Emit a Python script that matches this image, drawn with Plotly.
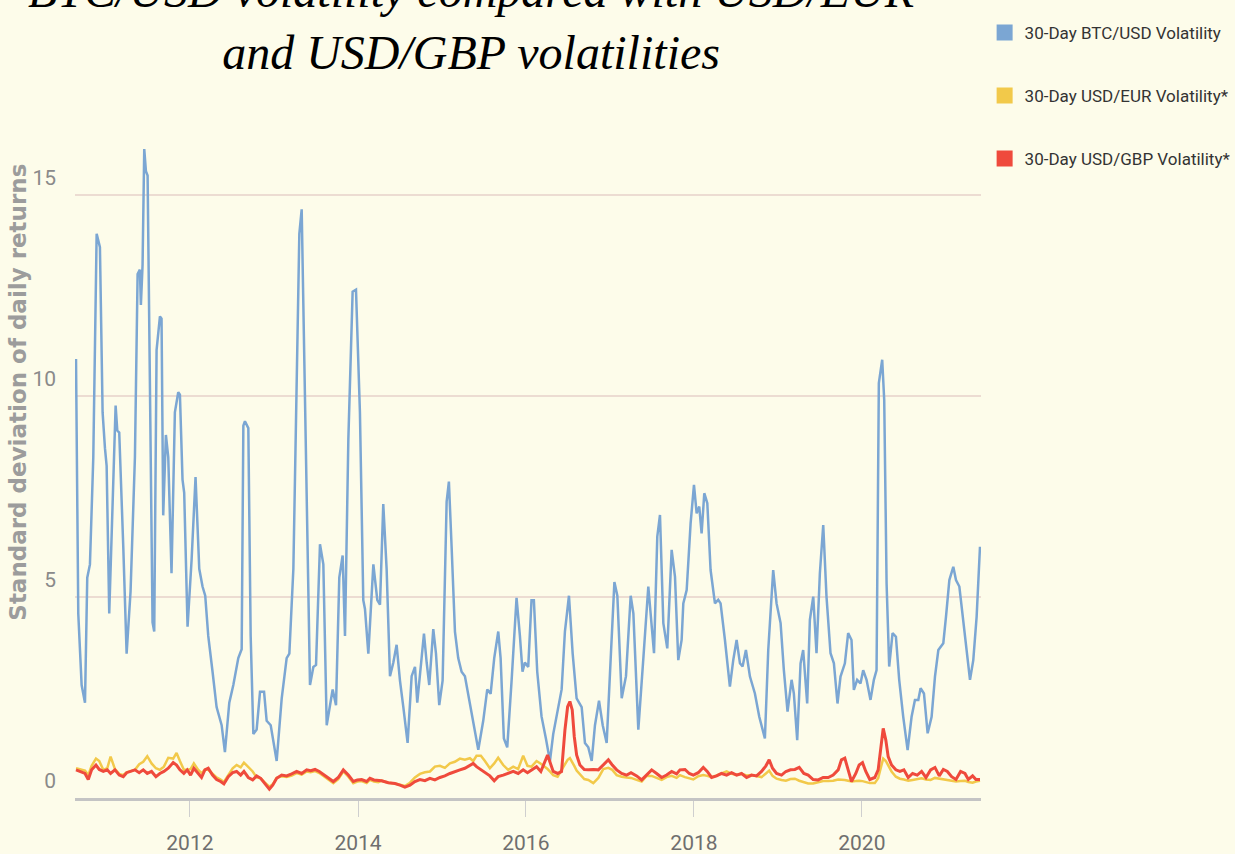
import pandas as pd
import plotly.graph_objects as go

# ---------------- data (decimal years, standard deviation of daily returns) ----------------
btc_years = [
    2010.643, 2010.670, 2010.710, 2010.750, 2010.777, 2010.809, 2010.849, 2010.889, 2010.928, 2010.960,
    2010.988, 2011.008, 2011.039, 2011.079, 2011.115, 2011.135, 2011.158, 2011.206, 2011.246, 2011.293,
    2011.345, 2011.377, 2011.404, 2011.416, 2011.436, 2011.456, 2011.476, 2011.496, 2011.523, 2011.555,
    2011.575, 2011.603, 2011.643, 2011.662, 2011.682, 2011.714, 2011.742, 2011.781, 2011.821, 2011.861,
    2011.881, 2011.912, 2011.932, 2011.972, 2012.020, 2012.067, 2012.111, 2012.150, 2012.182, 2012.218,
    2012.269, 2012.317, 2012.377, 2012.416, 2012.468, 2012.516, 2012.575, 2012.615, 2012.635, 2012.654,
    2012.694, 2012.722, 2012.754, 2012.793, 2012.833, 2012.881, 2012.912, 2012.960, 2013.031, 2013.091,
    2013.150, 2013.182, 2013.230, 2013.270, 2013.301, 2013.329, 2013.361, 2013.397, 2013.428, 2013.468,
    2013.500, 2013.547, 2013.587, 2013.627, 2013.666, 2013.698, 2013.738, 2013.777, 2013.817, 2013.845,
    2013.885, 2013.936, 2013.976, 2014.023, 2014.063, 2014.083, 2014.123, 2014.183, 2014.230, 2014.262,
    2014.301,
    2014.341, 2014.381, 2014.421, 2014.460, 2014.500, 2014.540, 2014.591, 2014.639, 2014.679, 2014.706,
    2014.738, 2014.786, 2014.818, 2014.849, 2014.897, 2014.929, 2014.968, 2015.008, 2015.056, 2015.083,
    2015.115, 2015.155, 2015.194, 2015.234, 2015.274, 2015.314, 2015.365, 2015.433, 2015.492, 2015.540,
    2015.580, 2015.623, 2015.671, 2015.699, 2015.738, 2015.778, 2015.830, 2015.889, 2015.929, 2015.960,
    2015.988, 2016.028, 2016.067, 2016.095, 2016.135, 2016.186, 2016.238, 2016.286, 2016.325, 2016.365,
    2016.425, 2016.464, 2016.512, 2016.556, 2016.603, 2016.663, 2016.702, 2016.742, 2016.782, 2016.821,
    2016.869, 2016.913, 2016.960, 2017.008, 2017.052, 2017.087, 2017.139, 2017.190, 2017.246, 2017.278,
    2017.337, 2017.397, 2017.456,
    2017.524, 2017.563, 2017.595, 2017.635, 2017.682, 2017.734, 2017.774, 2017.813, 2017.853, 2017.873,
    2017.913, 2017.960, 2018.000, 2018.032, 2018.063, 2018.091, 2018.123, 2018.159, 2018.198, 2018.250,
    2018.289, 2018.317, 2018.369, 2018.428, 2018.468, 2018.508, 2018.548, 2018.579, 2018.619, 2018.667,
    2018.726, 2018.778, 2018.845, 2018.885, 2018.944, 2018.984, 2019.032, 2019.071, 2019.115, 2019.163,
    2019.190, 2019.230, 2019.270, 2019.301, 2019.349, 2019.381, 2019.421, 2019.460, 2019.500, 2019.540,
    2019.579, 2019.627, 2019.667, 2019.710, 2019.746, 2019.798, 2019.837, 2019.877, 2019.905, 2019.944,
    2019.984, 2020.016, 2020.056, 2020.103, 2020.143, 2020.175, 2020.202, 2020.242, 2020.266, 2020.294,
    2020.325, 2020.365, 2020.405, 2020.444, 2020.492, 2020.544, 2020.591, 2020.631, 2020.671, 2020.698,
    2020.738, 2020.782, 2020.829, 2020.869, 2020.909, 2020.937, 2020.968, 2021.000, 2021.040, 2021.087,
    2021.119, 2021.159, 2021.206, 2021.246, 2021.286, 2021.325, 2021.365, 2021.405,
]
btc_vol = [
    10.92, 4.59, 2.81, 2.37, 5.48, 5.81, 8.48, 14.03, 13.70, 9.59,
    8.70, 8.26, 4.59, 7.37, 9.76, 9.14, 9.09, 6.26, 3.59, 5.14,
    8.48, 13.03, 13.14, 12.26, 13.26, 16.14, 15.59, 15.48, 9.59, 4.37,
    4.14, 11.14, 11.98, 11.92, 7.03, 9.03, 8.48, 5.59, 9.59, 10.09,
    10.03, 7.92, 7.59, 4.26, 5.92, 7.98, 5.70, 5.26, 5.03, 4.03,
    3.14, 2.26, 1.81, 1.14, 2.37, 2.81, 3.48, 3.70, 9.26, 9.37,
    9.20, 4.03, 1.59, 1.70, 2.64, 2.64, 1.92, 1.81, 0.92, 2.48,
    3.48, 3.59, 5.70, 10.70, 14.03, 14.64, 10.70, 5.70, 2.81, 3.26,
    3.31, 6.31, 5.81, 1.81, 2.26, 2.70, 2.31, 5.48, 6.03, 4.03,
    8.92, 12.59, 12.64, 9.59, 4.92, 4.70, 3.59, 5.81, 4.92, 4.81,
    7.31,
    5.70, 3.03, 3.37, 3.81, 2.92, 2.26, 1.37, 3.03, 3.26, 2.37,
    3.14, 4.09, 3.37, 2.81, 4.20, 3.59, 2.31, 2.92, 7.37, 7.87,
    6.26, 4.14, 3.48, 3.14, 3.03, 2.59, 2.03, 1.20, 1.92, 2.70,
    2.59, 3.48, 4.14, 3.48, 1.48, 1.26, 2.92, 4.98, 4.03, 3.14,
    3.37, 3.26, 4.92, 4.92, 3.14, 2.03, 1.48, 0.92, 1.59, 2.03,
    2.70, 4.14, 5.03, 3.59, 2.48, 2.26, 1.37, 1.26, 0.92, 1.81,
    2.42, 1.81, 1.37, 3.48, 5.37, 5.03, 2.48, 3.03, 5.03, 4.59,
    1.70, 3.48, 5.26,
    3.60, 6.50, 7.04, 4.35, 3.72, 6.17, 5.50, 3.43, 3.93, 4.84,
    5.17, 6.83, 7.79, 7.08, 7.25, 6.58, 7.58, 7.33, 5.67, 4.84,
    4.93, 4.84, 3.93, 2.77, 3.43, 3.93, 3.35, 3.27, 3.68, 3.02,
    2.60, 2.02, 1.48, 3.68, 5.67, 4.84, 4.35, 3.18, 2.15, 2.94,
    2.60, 1.44, 3.35, 3.68, 2.35, 4.43, 5.01, 3.60, 5.59, 6.79,
    5.01, 3.60, 3.35, 2.35, 3.02, 3.35, 4.10, 3.93, 2.69, 2.94,
    2.85, 3.18, 2.94, 2.44, 2.94, 3.18, 10.32, 10.90, 9.90, 5.34,
    3.27, 4.10, 4.01, 2.94, 2.02, 1.19, 2.02, 2.44, 2.44, 2.73,
    2.60, 1.61, 2.02, 3.02, 3.68, 3.76, 3.85, 4.51, 5.42, 5.75,
    5.42, 5.26, 4.35, 3.68, 2.94, 3.43, 4.51, 6.25,
]

fx_years = [
    2010.643, 2010.690, 2010.750, 2010.789, 2010.829, 2010.881, 2010.920, 2010.968, 2011.015, 2011.055,
    2011.107, 2011.158, 2011.206, 2011.246, 2011.293, 2011.345, 2011.396, 2011.444, 2011.492, 2011.543,
    2011.595, 2011.642, 2011.690, 2011.742, 2011.801, 2011.841, 2011.881, 2011.928, 2011.968, 2012.008,
    2012.047, 2012.099, 2012.138, 2012.178, 2012.218, 2012.269, 2012.317, 2012.365, 2012.404, 2012.456,
    2012.508, 2012.555, 2012.603, 2012.642, 2012.694, 2012.746, 2012.793, 2012.841, 2012.892, 2012.944,
    2012.984, 2013.031, 2013.091, 2013.150, 2013.210, 2013.269, 2013.329, 2013.389, 2013.436, 2013.488,
    2013.539, 2013.595, 2013.646, 2013.706, 2013.765, 2013.825, 2013.885, 2013.944, 2013.992, 2014.043,
    2014.103, 2014.142, 2014.190, 2014.242,
    2014.281, 2014.361, 2014.440, 2014.500, 2014.559, 2014.619, 2014.678, 2014.738, 2014.797, 2014.857,
    2014.916, 2014.976, 2015.035, 2015.095, 2015.154, 2015.214, 2015.273, 2015.333, 2015.373, 2015.412,
    2015.464, 2015.512, 2015.571, 2015.623, 2015.670, 2015.730, 2015.789, 2015.849, 2015.908, 2015.968,
    2016.019, 2016.067, 2016.127, 2016.178, 2016.226, 2016.258, 2016.285, 2016.325, 2016.377, 2016.424,
    2016.464, 2016.496, 2016.523, 2016.551, 2016.575, 2016.603, 2016.642, 2016.694, 2016.742, 2016.801,
    2016.861, 2016.920, 2016.980, 2017.027, 2017.079, 2017.138, 2017.198, 2017.250, 2017.317, 2017.377,
    2017.436, 2017.496, 2017.555, 2017.615, 2017.674, 2017.734, 2017.793,
    2017.833, 2017.893, 2017.944, 2017.992, 2018.051, 2018.111, 2018.158, 2018.210, 2018.270, 2018.329,
    2018.389, 2018.448, 2018.508, 2018.567, 2018.627, 2018.686, 2018.746, 2018.805, 2018.857, 2018.896,
    2018.936, 2018.984, 2019.043, 2019.095, 2019.150, 2019.202, 2019.254, 2019.309, 2019.361, 2019.420,
    2019.480, 2019.539, 2019.599, 2019.658, 2019.718, 2019.757, 2019.797, 2019.837, 2019.877, 2019.928,
    2019.968, 2020.008, 2020.047, 2020.095, 2020.154, 2020.194, 2020.234, 2020.254, 2020.285, 2020.313,
    2020.353, 2020.404, 2020.452, 2020.500, 2020.551, 2020.603, 2020.658, 2020.710, 2020.762, 2020.817,
    2020.869, 2020.920, 2020.968, 2021.016, 2021.067, 2021.119, 2021.174, 2021.226, 2021.266, 2021.317,
    2021.357, 2021.405,
]
gbp_vol = [
    0.70, 0.66, 0.61, 0.46, 0.70, 0.82, 0.71, 0.66, 0.70, 0.61,
    0.70, 0.57, 0.53, 0.63, 0.66, 0.70, 0.63, 0.70, 0.61, 0.66,
    0.53, 0.61, 0.66, 0.74, 0.88, 0.82, 0.70, 0.61, 0.70, 0.57,
    0.74, 0.61, 0.51, 0.70, 0.74, 0.57, 0.46, 0.41, 0.35, 0.53,
    0.63, 0.66, 0.57, 0.66, 0.51, 0.45, 0.55, 0.49, 0.36, 0.22,
    0.32, 0.49, 0.57, 0.55, 0.60, 0.66, 0.61, 0.70, 0.68, 0.71,
    0.66, 0.57, 0.51, 0.41, 0.51, 0.70, 0.57, 0.41, 0.45, 0.46,
    0.41, 0.49, 0.45, 0.43,
    0.43, 0.38, 0.36, 0.32, 0.27, 0.32, 0.41, 0.46, 0.43, 0.49,
    0.45, 0.51, 0.55, 0.61, 0.66, 0.70, 0.74, 0.82, 0.86, 0.78,
    0.70, 0.63, 0.55, 0.43, 0.53, 0.57, 0.61, 0.66, 0.61, 0.70,
    0.63, 0.70, 0.78, 0.66, 0.90, 1.07, 0.90, 0.66, 0.61, 0.66,
    1.69, 2.27, 2.40, 2.19, 1.53, 1.07, 0.82, 0.71, 0.70, 0.71,
    0.70, 0.82, 0.95, 0.82, 0.70, 0.61, 0.57, 0.63, 0.55, 0.45,
    0.57, 0.70, 0.61, 0.51, 0.57, 0.66, 0.60,
    0.70, 0.71, 0.61, 0.57, 0.63, 0.76, 0.66, 0.51, 0.55, 0.61,
    0.57, 0.63, 0.57, 0.61, 0.51, 0.57, 0.55, 0.66, 0.80, 0.95,
    0.74, 0.61, 0.57, 0.66, 0.70, 0.71, 0.76, 0.61, 0.57, 0.46,
    0.45, 0.51, 0.51, 0.57, 0.70, 0.95, 0.99, 0.70, 0.41, 0.61,
    0.82, 0.88, 0.66, 0.46, 0.51, 0.70, 1.36, 1.73, 1.44, 1.03,
    0.82, 0.70, 0.66, 0.70, 0.51, 0.61, 0.57, 0.66, 0.51, 0.70,
    0.76, 0.55, 0.71, 0.66, 0.53, 0.46, 0.66, 0.61, 0.46, 0.55,
    0.46, 0.46,
]
eur_vol = [
    0.74, 0.72, 0.68, 0.57, 0.80, 0.98, 0.92, 0.70, 0.74, 1.03,
    0.72, 0.60, 0.57, 0.64, 0.67, 0.70, 0.84, 0.90, 1.04, 0.86,
    0.74, 0.70, 0.78, 1.00, 0.98, 1.12, 0.92, 0.70, 0.70, 0.72,
    0.86, 0.70, 0.62, 0.70, 0.70, 0.61, 0.51, 0.46, 0.40, 0.57,
    0.74, 0.82, 0.76, 0.88, 0.78, 0.66, 0.51, 0.49, 0.38, 0.28,
    0.34, 0.50, 0.54, 0.52, 0.56, 0.62, 0.58, 0.66, 0.64, 0.67,
    0.62, 0.53, 0.47, 0.37, 0.47, 0.66, 0.53, 0.37, 0.41, 0.42,
    0.37, 0.45, 0.41, 0.39,
    0.43, 0.38, 0.36, 0.32, 0.30, 0.38, 0.51, 0.60, 0.64, 0.66,
    0.78, 0.80, 0.75, 0.86, 0.90, 0.98, 0.95, 0.99, 0.92, 1.05,
    1.05, 0.92, 0.74, 0.86, 1.00, 0.82, 0.70, 0.78, 0.72, 1.05,
    0.80, 0.78, 0.92, 0.85, 0.78, 0.72, 0.66, 0.57, 0.53, 0.70,
    0.85, 0.95, 0.99, 0.90, 0.80, 0.68, 0.58, 0.47, 0.45, 0.37,
    0.50, 0.72, 0.75, 0.70, 0.57, 0.53, 0.51, 0.50, 0.45, 0.41,
    0.55, 0.55, 0.50, 0.45, 0.52, 0.55, 0.50,
    0.57, 0.52, 0.48, 0.46, 0.54, 0.57, 0.55, 0.52, 0.56, 0.61,
    0.66, 0.60, 0.58, 0.60, 0.56, 0.57, 0.54, 0.52, 0.61, 0.68,
    0.55, 0.48, 0.45, 0.43, 0.47, 0.48, 0.43, 0.40, 0.36, 0.36,
    0.40, 0.42, 0.42, 0.43, 0.46, 0.46, 0.45, 0.43, 0.41, 0.42,
    0.43, 0.42, 0.40, 0.37, 0.37, 0.49, 0.82, 0.98, 0.92, 0.80,
    0.66, 0.53, 0.48, 0.46, 0.43, 0.45, 0.47, 0.49, 0.46, 0.45,
    0.50, 0.48, 0.46, 0.44, 0.43, 0.41, 0.42, 0.43, 0.40, 0.38,
    0.41, 0.43,
]

x_tick_years = [2012, 2014, 2016, 2018, 2020]
y_tick_vals = [0, 5, 10, 15]
x_range_years = [2010.631, 2021.417]
y_range = [0, 17.36]

series_names = [
    "30-Day BTC/USD Volatility",
    "30-Day USD/EUR Volatility*",
    "30-Day USD/GBP Volatility*",
]
title_text = "BTC/USD volatility compared with USD/EUR<br>and USD/GBP volatilities"
y_title_text = "Standard deviation of daily returns"


def to_date(y):
    year = int(y)
    start = pd.Timestamp(year, 1, 1)
    end = pd.Timestamp(year + 1, 1, 1)
    return start + (end - start) * (y - year)


btc_dates = [to_date(v) for v in btc_years]
fx_dates = [to_date(v) for v in fx_years]

BLUE = "#7ba6d3"
YELLOW = "#f2c94a"
RED = "#ef4a3c"
BG = "#fdfcea"
NARROW = "Roboto, Liberation Sans, sans-serif"

fig = go.Figure()
fig.add_trace(go.Scatter(x=btc_dates, y=btc_vol, mode="lines", name=series_names[0],
                         line=dict(color=BLUE, width=2.5), showlegend=False))
fig.add_trace(go.Scatter(x=fx_dates, y=eur_vol, mode="lines", name=series_names[1],
                         line=dict(color=YELLOW, width=2.5), showlegend=False))
fig.add_trace(go.Scatter(x=fx_dates, y=gbp_vol, mode="lines", name=series_names[2],
                         line=dict(color=RED, width=3), showlegend=False))

for name, col in zip(series_names, [BLUE, YELLOW, RED]):
    fig.add_trace(go.Scatter(x=[None], y=[None], mode="markers", name=name, legendgroup=name,
                             marker=dict(symbol="square", size=20, color=col), showlegend=True))

fig.update_layout(
    width=1235, height=854,
    margin=dict(l=75, r=254, t=100, b=56, autoexpand=False),
    paper_bgcolor=BG, plot_bgcolor=BG,
    showlegend=True,
    legend=dict(x=1.004, y=1.122, xanchor="left", yanchor="top",
                font=dict(family=NARROW, size=17, color="#333333"),
                bgcolor="rgba(0,0,0,0)", tracegroupgap=38, itemsizing="trace"),
    xaxis=dict(
        type="date",
        range=[to_date(x_range_years[0]), to_date(x_range_years[1])],
        tickvals=[to_date(y) for y in x_tick_years],
        ticktext=[str(y) for y in x_tick_years],
        ticks="outside", ticklen=16, tickwidth=1, tickcolor="#cfcfcf",
        showline=True, linecolor="#c4c4c4", linewidth=3,
        showgrid=False, zeroline=False,
        ticklabelstandoff=8,
        tickfont=dict(family=NARROW, size=21, color="#6f6f6f"),
    ),
    yaxis=dict(
        range=y_range,
        tickvals=y_tick_vals,
        ticktext=[str(v) for v in y_tick_vals],
        showgrid=True, gridcolor="#ecdcd2", gridwidth=2,
        zeroline=False, showline=False, ticks="",
        ticklabelshift=-17, ticklabelstandoff=18,
        tickfont=dict(family=NARROW, size=21, color="#8a8a8a"),
    ),
    annotations=[
        dict(text=title_text, xref="paper", yref="paper", x=0.437, y=1.0272,
             xanchor="center", yanchor="bottom", showarrow=False, align="center",
             font=dict(family="Liberation Serif, Times New Roman, serif", size=48,
                       color="#000000", style="italic")),
        dict(text=y_title_text, xref="paper", yref="paper", x=-0.063, y=0.582,
             xanchor="center", yanchor="middle", showarrow=False, textangle=-90,
             font=dict(family="DejaVu Sans, sans-serif", size=23, color="#9c9c9c",
                       weight="bold")),
    ],
)

fig.write_html(
    "out.html",
    config={"displayModeBar": False},
    post_script="document.body.style.margin='0';document.body.style.background='" + BG + "';",
)
